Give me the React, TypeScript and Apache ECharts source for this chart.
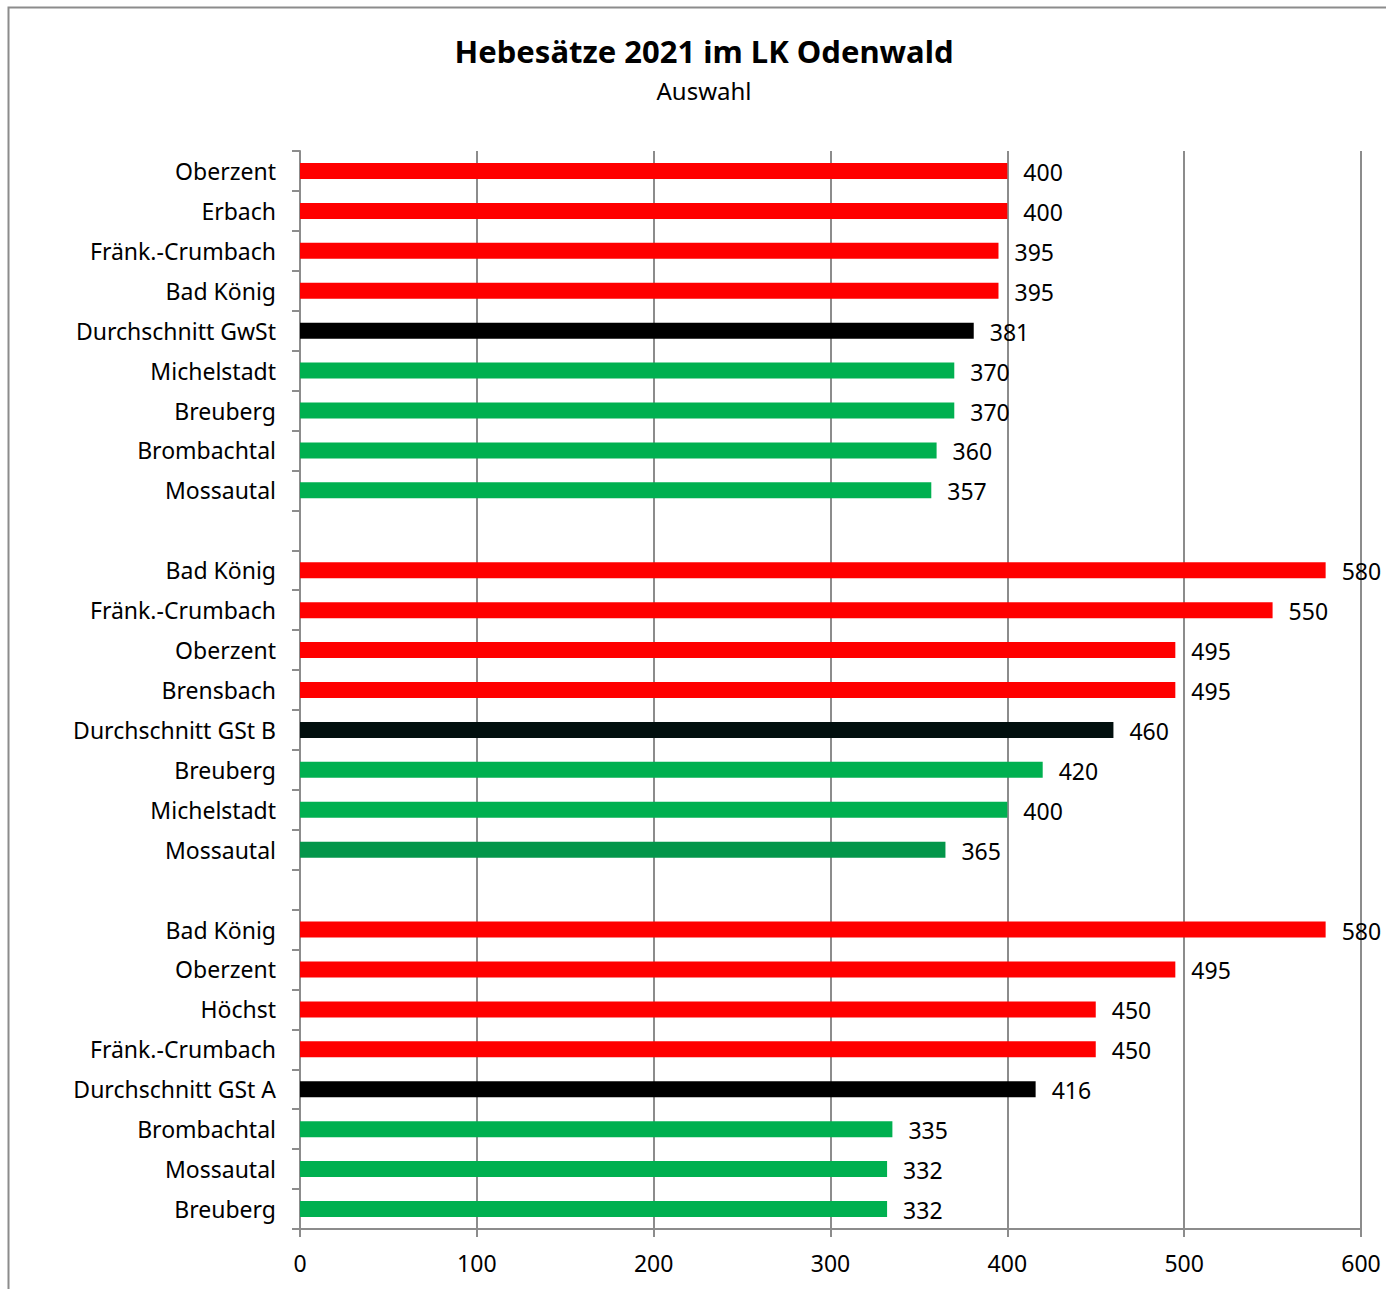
import React, { useEffect, useRef } from "react";
import * as echarts from "echarts";

const categories = [
  "Oberzent", "Erbach", "Fränk.-Crumbach", "Bad König", "Durchschnitt GwSt",
  "Michelstadt", "Breuberg", "Brombachtal", "Mossautal", "",
  "Bad König", "Fränk.-Crumbach", "Oberzent", "Brensbach", "Durchschnitt GSt B",
  "Breuberg", "Michelstadt", "Mossautal", "",
  "Bad König", "Oberzent", "Höchst", "Fränk.-Crumbach", "Durchschnitt GSt A",
  "Brombachtal", "Mossautal", "Breuberg",
];

const values: (number | null)[] = [
  400, 400, 395, 395, 381, 370, 370, 360, 357, null,
  580, 550, 495, 495, 460, 420, 400, 365, null,
  580, 495, 450, 450, 416, 335, 332, 332,
];

const RED = "#FF0000";
const GREEN = "#00B050";
const DKGREEN = "#03964A";
const BLACK = "#000000";
const DKBLACK = "#020F0E";

const barColors = [
  RED, RED, RED, RED, BLACK, GREEN, GREEN, GREEN, GREEN, GREEN,
  RED, RED, RED, RED, DKBLACK, GREEN, GREEN, DKGREEN, GREEN,
  RED, RED, RED, RED, BLACK, GREEN, GREEN, GREEN,
];

const xTicks = { min: 0, max: 600, interval: 100 };

const FONT = "'Noto Sans', sans-serif";

export default function App() {
  const ref = useRef<HTMLDivElement>(null);
  useEffect(() => {
    if (!ref.current) return;
    const chart = echarts.init(ref.current, undefined, { renderer: "svg" });
    chart.setOption({
      animation: false,
      backgroundColor: "#ffffff",
      title: {
        text: "Hebesätze 2021 im LK Odenwald",
        subtext: "Auswahl",
        left: 699,
        textAlign: "center",
        top: 30,
        itemGap: 12,
        textStyle: { fontFamily: FONT, fontSize: 31, fontWeight: "bold", color: "#000" },
        subtextStyle: { fontFamily: FONT, fontSize: 24, color: "#000" },
      },
      graphic: [
        {
          type: "rect",
          shape: { x: 8.5, y: 7.5, width: 1500, height: 1500 },
          style: { fill: "none", stroke: "#8c8c8c", lineWidth: 2 },
          silent: true,
        },
      ],
      grid: { left: 300, right: 25, top: 151, bottom: 60, containLabel: false },
      xAxis: {
        type: "value",
        min: xTicks.min,
        max: xTicks.max,
        interval: xTicks.interval,
        axisLine: { show: true, lineStyle: { color: "#8c8c8c", width: 2 } },
        axisTick: { show: true, length: 8, lineStyle: { color: "#8c8c8c", width: 2 } },
        splitLine: { show: true, lineStyle: { color: "#8c8c8c", width: 2 } },
        axisLabel: { fontFamily: FONT, fontSize: 23, color: "#000", margin: 22 },
      },
      yAxis: {
        type: "category",
        inverse: true,
        data: categories,
        axisLine: { show: true, lineStyle: { color: "#8c8c8c", width: 2 } },
        axisTick: { show: true, length: 8, alignWithLabel: false, lineStyle: { color: "#8c8c8c", width: 2 } },
        axisLabel: { fontFamily: FONT, fontSize: 23, color: "#000", margin: 24, interval: 0 },
        splitLine: { show: false },
      },
      series: [
        {
          type: "bar",
          barWidth: 16,
          data: values.map((v, i) => ({ value: v, itemStyle: { color: barColors[i] } })),
          label: {
            show: true,
            position: "right",
            distance: 16,
            offset: [0, 1],
            fontFamily: FONT,
            fontSize: 23,
            color: "#000",
            formatter: (p: any) => (p.value == null ? "" : String(p.value)),
          },
        },
      ],
    });
    return () => chart.dispose();
  }, []);
  return (
    <div
      ref={ref}
      style={{ position: "absolute", left: 0, top: 0, width: 1386, height: 1289 }}
    />
  );
}
